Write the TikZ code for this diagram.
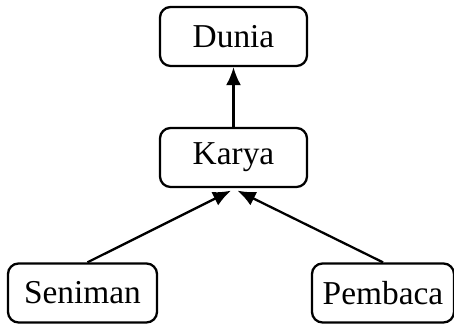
\documentclass[tikz,border=0pt]{standalone}
\usepackage{fontspec}
\setmainfont{Liberation Serif}
\usepackage{tikz}
\usetikzlibrary{arrows.meta,positioning}

\begin{document}
\begin{tikzpicture}[
  box/.style={rounded corners=6pt,draw=black,line width=1.3pt,minimum width=2.94cm,minimum height=1.18cm,align=center,font=\fontsize{19}{21}\selectfont,inner sep=0pt},
  arrow/.style={-{Latex[length=3.6mm,width=3mm]},line width=1.3pt,draw=black}
]
\useasboundingbox (0,0) rectangle (9.08,6.48);
\node[box] (dunia) at (4.67,5.75) {Dunia};
\node[box] (karya) at (4.67,3.33) {Karya};
\node[box,minimum width=2.98cm] (seniman) at (1.65,0.62) {Seniman};
\node[box,minimum width=2.84cm] (pembaca) at (7.66,0.62) {Pembaca};
\draw[arrow] (karya) -- (dunia);
\draw[arrow] ([xshift=1mm]seniman.north) -- ([xshift=-0.5mm,yshift=-0.5mm]karya.south);
\draw[arrow] (pembaca.north) -- ([xshift=0.8mm,yshift=-0.5mm]karya.south);
\end{tikzpicture}
\end{document}
